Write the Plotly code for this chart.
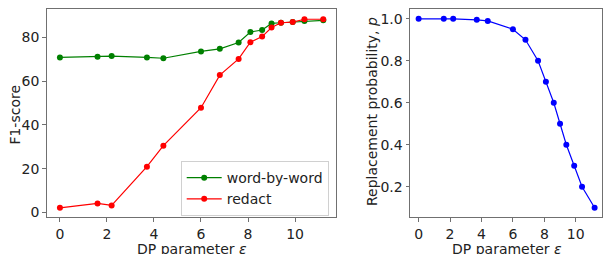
import plotly.graph_objects as go

eps = [0, 1.6, 2.2, 3.7, 4.4, 6.0, 6.8, 7.6, 8.1, 8.6, 9.0, 9.4, 9.9, 10.4, 11.2]
f1_word = [70.8, 71.1, 71.4, 70.8, 70.4, 73.5, 74.7, 77.6, 82.4, 83.3, 86.3, 86.6, 86.9, 87.4, 87.7]
f1_redact = [2.1, 4.1, 3.2, 20.9, 30.5, 47.8, 62.7, 70.1, 77.7, 80.3, 84.4, 86.6, 86.9, 88.2, 88.2]
p_repl = [1.0, 1.0, 1.0, 0.995, 0.99, 0.95, 0.9, 0.8, 0.7, 0.6, 0.5, 0.4, 0.3, 0.2, 0.1]

W, H = 603, 254
FONT = "DejaVu Sans"
AX = "#707070"
TXT = "#222222"

fig = go.Figure()
fig.add_trace(go.Scatter(x=eps, y=f1_word, mode="lines+markers", name="word-by-word",
                         line=dict(color="green", width=1.2), marker=dict(color="green", size=6),
                         xaxis="x", yaxis="y"))
fig.add_trace(go.Scatter(x=eps, y=f1_redact, mode="lines+markers", name="redact",
                         line=dict(color="red", width=1.2), marker=dict(color="red", size=6),
                         xaxis="x", yaxis="y"))
fig.add_trace(go.Scatter(x=eps, y=p_repl, mode="lines+markers", name="p", showlegend=False,
                         line=dict(color="blue", width=1.2), marker=dict(color="blue", size=6),
                         xaxis="x2", yaxis="y2"))

def px(v):
    return v / W

def py(v):
    return (H - v) / H

common = dict(showline=True, linecolor=AX, linewidth=1, mirror=True, ticks="outside",
              ticklen=3.5, tickcolor=AX, showgrid=False, zeroline=False,
              tickfont=dict(family=FONT, size=14, color=TXT))

fig.update_layout(
    width=W, height=H, margin=dict(l=0, r=0, t=0, b=0),
    paper_bgcolor="white", plot_bgcolor="white",
    font=dict(family=FONT, size=14, color=TXT),
    xaxis=dict(domain=[px(46.7), px(337)], range=[-0.565, 11.76], tickvals=[0, 2, 4, 6, 8, 10],
               anchor="y", **common),
    yaxis=dict(domain=[py(220), py(9.3)], range=[-2.26, 92.8], tickvals=[0, 20, 40, 60, 80],
               anchor="x", **common),
    xaxis2=dict(domain=[px(410.7), 1.0], range=[-0.547, 11.67], tickvals=[0, 2, 4, 6, 8, 10],
                anchor="y2", **common),
    yaxis2=dict(domain=[py(220), py(9.3)], range=[0.054, 1.0457],
                tickvals=[0.2, 0.4, 0.6, 0.8, 1.0], tickformat=".1f", anchor="x2", **common),
    legend=dict(x=px(181), y=py(163), xanchor="left", yanchor="top",
                bgcolor="rgba(255,255,255,0.8)", bordercolor="#d0d0d0", borderwidth=1,
                font=dict(family=FONT, size=14, color=TXT), tracegroupgap=0, itemwidth=35),
    showlegend=True,
)

tf = dict(family=FONT, size=14, color=TXT)
ann = [
    dict(text="DP parameter <i>ε</i>", x=px(192), y=py(248), xref="paper", yref="paper",
         showarrow=False, xanchor="center", yanchor="middle", yshift=-3.5, font=tf),
    dict(text="DP parameter <i>ε</i>", x=px(508), y=py(248), xref="paper", yref="paper",
         showarrow=False, xanchor="center", yanchor="middle", yshift=-3.5, font=tf),
    dict(text="F1-score", x=px(15), y=py(116), xref="paper", yref="paper", textangle=-90,
         showarrow=False, xanchor="center", yanchor="middle", font=tf),
    dict(text="Replacement probability, <i>p</i>", x=px(372), y=py(113), xref="paper", yref="paper",
         textangle=-90, showarrow=False, xanchor="center", yanchor="middle", font=tf),
]
fig.update_layout(annotations=ann)

fig.write_html("out.html", config={"displayModeBar": False},
               post_script="document.body.style.margin='0';document.body.style.overflow='hidden';")
